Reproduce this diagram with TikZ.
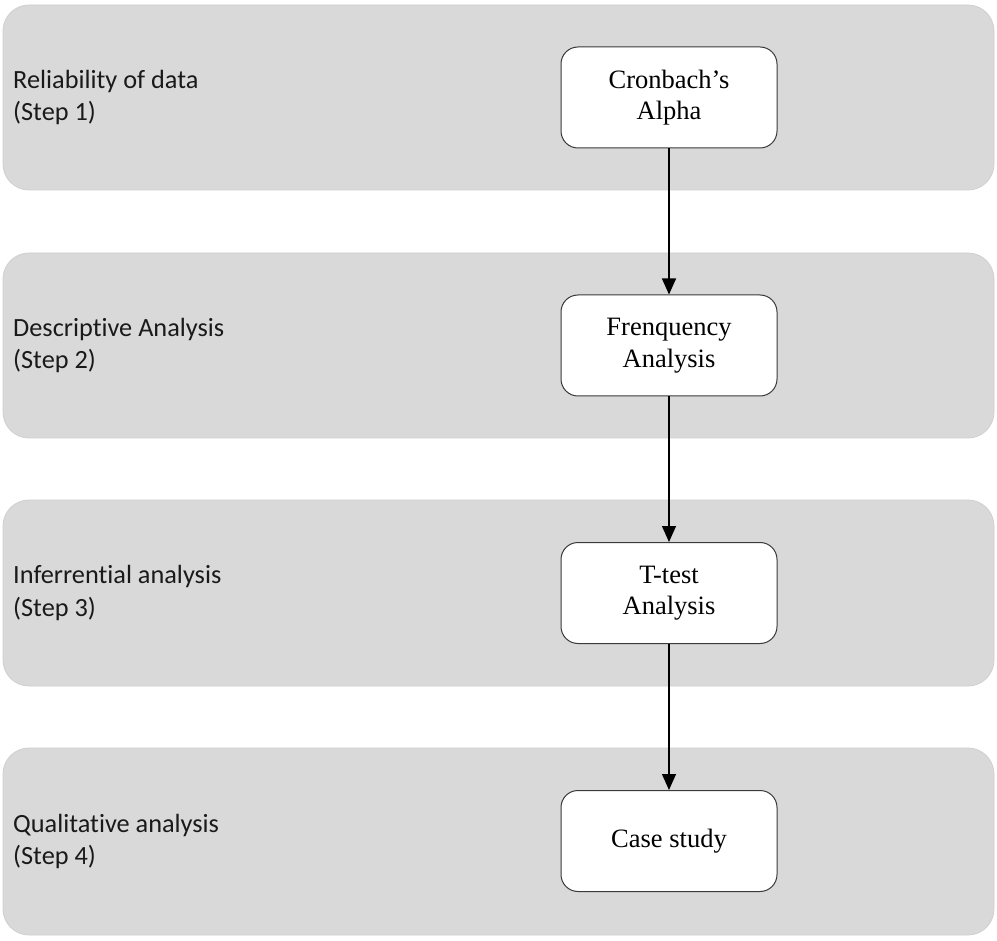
\documentclass[tikz,border=0pt]{standalone}
\usepackage{fontspec}
\setmainfont{Liberation Serif}
\newfontfamily\lblfont[Ligatures=NoCommon]{Carlito}
\usetikzlibrary{arrows.meta}
\definecolor{bandgray}{HTML}{D9D9D9}
\definecolor{bandedge}{HTML}{CFCFCF}
\definecolor{boxedge}{HTML}{3A3A3A}
\definecolor{lbltext}{HTML}{1A1A1A}
\begin{document}
\begin{tikzpicture}[x=1pt,y=-1pt,
  band/.style={fill=bandgray,draw=bandedge,line width=0.8pt,rounded corners=26pt},
  stepbox/.style={draw=boxedge,fill=white,line width=1pt,rounded corners=17pt,
    minimum width=216pt,minimum height=101pt,inner sep=0pt,align=center,
    font=\fontsize{26.5}{31.5}\selectfont},
  lbl/.style={anchor=west,align=left,text=lbltext,inner sep=0pt,
    font=\lblfont\fontsize{26.3}{32.5}\selectfont},
  flow/.style={-{Triangle[length=16pt,width=14pt]},line width=1.3pt,black}]
\useasboundingbox (0,0) rectangle (997,941);
\fill[white] (0,0) rectangle (997,941);
\draw[band] (3,5) rectangle (994,190);
\draw[band] (3,253) rectangle (994,438);
\draw[band] (3,500) rectangle (994,686);
\draw[band] (3,748) rectangle (994,935);
\node[lbl] (l1) at (13,97.5) {Reliability of data\\(Step 1)};
\node[lbl] (l2) at (13,345.5) {Descriptive Analysis\\(Step 2)};
\node[lbl] (l3) at (13,593) {Inferrential analysis\\(Step 3)};
\node[lbl] (l4) at (13,841.5) {Qualitative analysis\\(Step 4)};
\node[stepbox] (b1) at (669,97.5) {Cronbach’s\\Alpha};
\node[stepbox] (b2) at (669,345.5) {Frenquency\\Analysis};
\node[stepbox] (b3) at (669,593) {T-test\\Analysis};
\node[stepbox] (b4) at (669,841) {Case study};
\draw[flow] (b1) -- (b2);
\draw[flow] (b2) -- (b3);
\draw[flow] (b3) -- (b4);
\end{tikzpicture}
\end{document}
